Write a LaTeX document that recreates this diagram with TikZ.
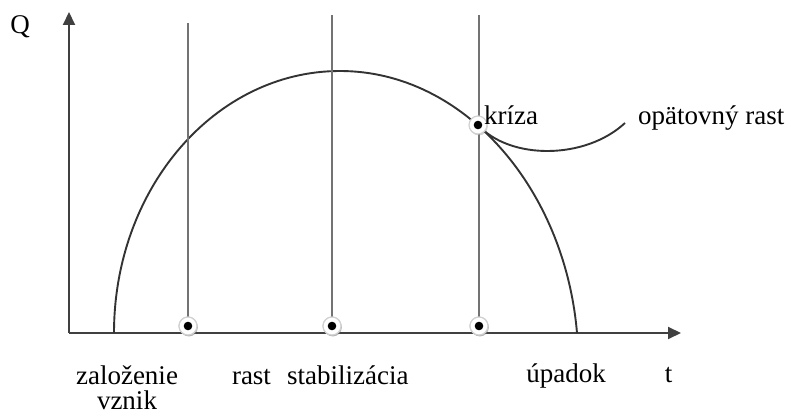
\documentclass[tikz,border=0pt]{standalone}
\usepackage{fontspec}
\setmainfont{Liberation Serif}
\usetikzlibrary{arrows.meta,shadows}
\begin{document}
\begin{tikzpicture}[x=1pt,y=1pt,
  axis/.style={draw=black!75, line width=2pt},
  vline/.style={draw=black!55, line width=2.6pt},
  curve/.style={draw=black!80, line width=1.9pt},
  dotnode/.style={circle, inner sep=0pt, minimum size=18pt, fill=white, draw=black!18, line width=1.2pt,
    drop shadow={opacity=0.35, shadow xshift=0.8pt, shadow yshift=-1.4pt},
    path picture={\fill[black] (path picture bounding box.center) circle (4.3pt);}},
  lbl/.style={inner sep=0pt, font=\fontsize{27}{25}\selectfont}
]
\useasboundingbox (0,0) rectangle (792,415);
% axes
\coordinate (O) at (69,82);
\coordinate (Ytip) at (69,403);
\coordinate (Xtip) at (681,82);
\draw[axis, -{Triangle[length=13pt,width=12pt]}] (O) -- (Ytip);
\draw[axis, -{Triangle[length=13pt,width=12pt]}] (O) -- (Xtip);
% arch
\coordinate (a0) at (114,82);
\coordinate (apeak) at (340,344);
\coordinate (a1) at (577,82);
\draw[curve] (a0) .. controls (114,226.7) and (215.2,344) .. (apeak)
  .. controls (465,344) and (565,225) .. (a1);
% vertical lines
\coordinate (v1) at (188,392);
\coordinate (v2) at (332,400);
\coordinate (v3) at (479,400);
\node[dotnode] (d1) at (188,89) {};
\node[dotnode] (d2) at (332,89) {};
\node[dotnode] (d3) at (479,89) {};
\draw[vline] (v1) -- (d1.center);
\draw[vline] (v2) -- (d2.center);
\draw[vline] (v3) -- (d3.center);
% kriza and renewed growth
\coordinate (k) at (478,290);
\coordinate (r) at (625,292);
\draw[curve] (k) .. controls (510,255) and (585,255) .. (r);
\node[dotnode] (dk) at (k) {};
\node[dotnode] (d1b) at (d1) {};
\node[dotnode] (d2b) at (d2) {};
\node[dotnode] (d3b) at (d3) {};
% labels
\node[lbl, anchor=base] (Q) at (20,381) {Q};
\node[lbl, anchor=base west] (kr) at (484,290) {kríza};
\node[lbl, anchor=base west] (op) at (638,290) {opätovný rast};
\node[lbl, anchor=base, align=center] (zal) at (127,6) {založenie\\vznik};
\node[lbl, anchor=base] (ra) at (251.5,31) {rast};
\node[lbl, anchor=base west] (st) at (287,31) {stabilizácia};
\node[lbl, anchor=base] (up) at (566,33) {úpadok};
\node[lbl, anchor=base] (t) at (668.5,33) {t};
\end{tikzpicture}
\end{document}
